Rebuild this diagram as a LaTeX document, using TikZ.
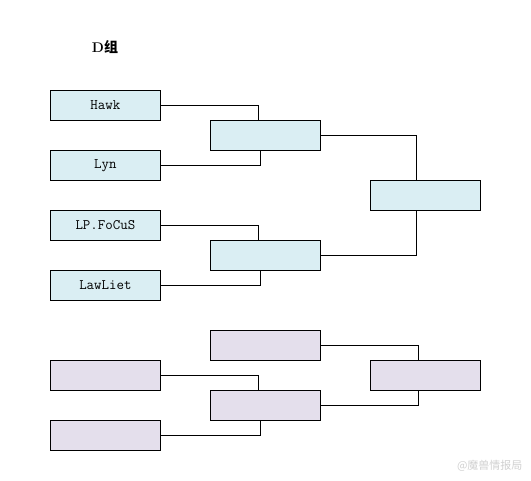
\documentclass[tikz,border=0pt]{standalone}
\usepackage{fontspec}
\newfontfamily\cjk{Noto Sans CJK SC}
\definecolor{boxblue}{HTML}{DAEEF3}
\definecolor{boxlav}{HTML}{E4DFEC}
\begin{document}
\begin{tikzpicture}[x=1pt,y=-1pt,
  bbox/.style={draw=black,line width=0.8pt,minimum width=110pt,minimum height=30pt,inner sep=0pt,font=\ttfamily\fontsize{14.5}{16}\selectfont,anchor=north west},
  bl/.style={bbox,fill=boxblue},
  lv/.style={bbox,fill=boxlav},
  conn/.style={draw=black,line width=0.8pt}]
\useasboundingbox[fill=white] (0,0) rectangle (531,481);
\node[font=\bfseries\fontsize{14}{16}\selectfont] (title) at (105,47) {D{\cjk 组}};
% upper bracket
\node[bl] (a1) at (50,90) {Hawk};
\node[bl] (a2) at (50,150) {Lyn};
\node[bl] (a3) at (50,210) {LP.FoCuS};
\node[bl] (a4) at (50,270) {LawLiet};
\node[bl] (m1) at (210,120) {};
\node[bl] (m2) at (210,240) {};
\node[bl] (r1) at (370,180) {};
% lower bracket
\node[lv] (b1) at (50,360) {};
\node[lv] (b2) at (50,420) {};
\node[lv] (n1) at (210,330) {};
\node[lv] (n2) at (210,390) {};
\node[lv] (s1) at (370,360) {};
% connectors
\draw[conn] (a1.east) -| ([xshift=-7pt]m1.north);
\draw[conn] (a2.east) -| ([xshift=-5pt]m1.south);
\draw[conn] (a3.east) -| ([xshift=-7pt]m2.north);
\draw[conn] (a4.east) -| ([xshift=-5pt]m2.south);
\draw[conn] (m1.east) -| ([xshift=-9pt]r1.north);
\draw[conn] (m2.east) -| ([xshift=-9pt]r1.south);
\draw[conn] (b1.east) -| ([xshift=-7pt]n2.north);
\draw[conn] (b2.east) -| ([xshift=-5pt]n2.south);
\draw[conn] (n1.east) -| ([xshift=-7pt]s1.north);
\draw[conn] (n2.east) -| ([xshift=-7pt]s1.south);
% watermark
\node[text=black!18,font=\cjk\fontsize{11}{13}\selectfont,anchor=east] (wm) at (526,466) {@魔兽情报局};
\end{tikzpicture}
\end{document}
